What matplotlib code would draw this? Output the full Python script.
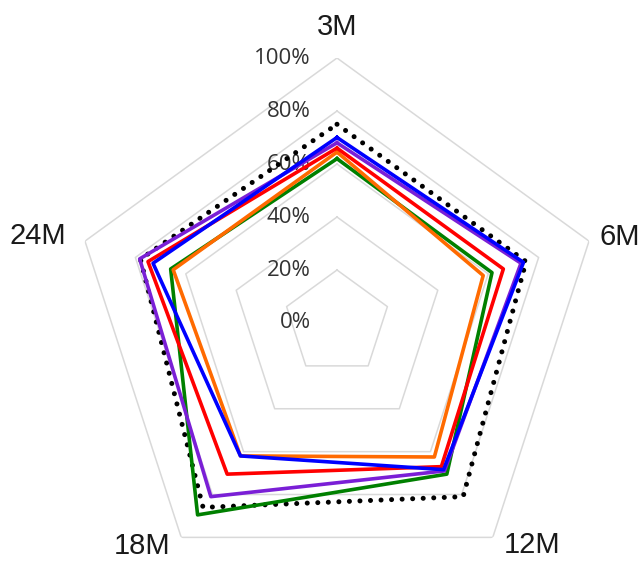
import numpy as np
import matplotlib.pyplot as plt

labels = ['3M', '6M', '12M', '18M', '24M']
ref_dotted = [75, 75, 81, 86, 78]
s_green = [62, 61.5, 70.5, 89.5, 66]
s_orange = [64.5, 58, 62.5, 62, 65]
s_red = [66, 66, 67, 70.5, 75]
s_purple = [68, 73, 69, 81, 78.3]
s_blue = [70, 74, 68.4, 62, 73]
grid_levels = [20, 40, 60, 80, 100]
tick_levels = [0, 20, 40, 60, 80, 100]

n = len(labels)
theta = np.linspace(0, 2 * np.pi, n, endpoint=False)
theta_c = np.append(theta, theta[0])


def closed(vals):
    return np.append(vals, vals[0])


fig = plt.figure(figsize=(6.43, 5.61), dpi=100)
W, H = 643, 561
cx, cy, R = 337, 323, 265
ax = fig.add_axes([(cx - R) / W, (H - cy - R) / H, 2 * R / W, 2 * R / H],
                  projection='polar')
ax.set_theta_offset(np.pi / 2)
ax.set_theta_direction(-1)
ax.set_ylim(0, 100)
ax.grid(False)
ax.set_xticks([])
ax.set_yticks([])
ax.spines['polar'].set_visible(False)
ax.patch.set_visible(False)

# pentagon grid
for lv in grid_levels:
    ax.plot(theta_c, [lv] * (n + 1), color='#D9D9D9', lw=1.1, zorder=1)

# radial value labels along the top axis
for lv in tick_levels:
    ax.annotate(f'{lv}%', xy=(0, lv), xytext=(-19, 0), textcoords='offset points',
                ha='right', va='center', fontsize=16, color='#333333',
                family='Open Sans', annotation_clip=False, zorder=2)

ax.plot(theta_c, closed(ref_dotted), color='black', lw=3.6,
        linestyle=(0, (0.01, 2.1)), dash_capstyle='round', zorder=3)
ax.plot(theta_c, closed(s_green), color='#008000', lw=2.6, zorder=4)
ax.plot(theta_c, closed(s_orange), color='#FF6A00', lw=2.6, zorder=4)
ax.plot(theta_c, closed(s_red), color='#FF0000', lw=2.6, zorder=5)
ax.plot(theta_c, closed(s_purple), color='#7A1FD6', lw=2.6, zorder=5)
ax.plot(theta_c, closed(s_blue), color='#0000FF', lw=2.6, zorder=6)

# category labels sit just outside the outer ring
label_pos = [(0, 111.7), (73, 111.6), (138.8, 111.5), (221.2, 111.7), (286.2, 117.5)]
for (deg, r), lab in zip(label_pos, labels):
    ax.text(np.radians(deg), r, lab, ha='center', va='center', fontsize=21,
            family='Liberation Sans', color='#1a1a1a', clip_on=False)

fig.savefig('out.png', dpi=100)
